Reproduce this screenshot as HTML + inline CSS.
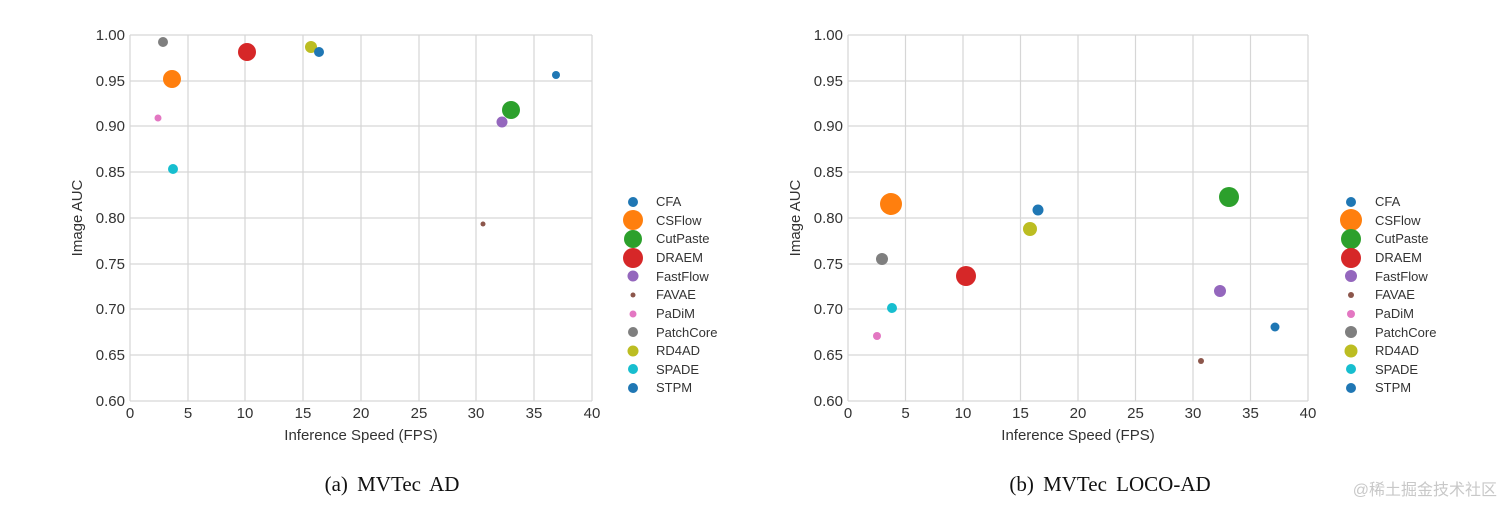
<!DOCTYPE html>
<html><head><meta charset="utf-8"><style>
body{margin:0;background:#fff;}
svg{display:block;}
</style></head><body>
<svg width="1503" height="505" xmlns="http://www.w3.org/2000/svg" font-family="Liberation Sans, sans-serif">
<rect width="1503" height="505" fill="#fff"/>
<!-- LEFT PLOT -->
<g stroke="#d6d6d6" stroke-width="1.2">
<line x1="130" y1="35" x2="130" y2="401"/><line x1="188" y1="35" x2="188" y2="401"/><line x1="245" y1="35" x2="245" y2="401"/><line x1="303" y1="35" x2="303" y2="401"/><line x1="361" y1="35" x2="361" y2="401"/><line x1="419" y1="35" x2="419" y2="401"/><line x1="476" y1="35" x2="476" y2="401"/><line x1="534" y1="35" x2="534" y2="401"/><line x1="592" y1="35" x2="592" y2="401"/>
<line x1="130" y1="35" x2="592" y2="35"/><line x1="130" y1="81" x2="592" y2="81"/><line x1="130" y1="126" x2="592" y2="126"/><line x1="130" y1="172" x2="592" y2="172"/><line x1="130" y1="218" x2="592" y2="218"/><line x1="130" y1="264" x2="592" y2="264"/><line x1="130" y1="309" x2="592" y2="309"/><line x1="130" y1="355" x2="592" y2="355"/><line x1="130" y1="401" x2="592" y2="401"/>
</g>
<g font-size="15" fill="#333" text-anchor="end">
<text x="125" y="40">1.00</text><text x="125" y="86">0.95</text><text x="125" y="131">0.90</text><text x="125" y="177">0.85</text><text x="125" y="223">0.80</text><text x="125" y="269">0.75</text><text x="125" y="314">0.70</text><text x="125" y="360">0.65</text><text x="125" y="406">0.60</text>
</g>
<g font-size="15" fill="#333" text-anchor="middle">
<text x="130" y="418">0</text><text x="188" y="418">5</text><text x="245" y="418">10</text><text x="303" y="418">15</text><text x="361" y="418">20</text><text x="419" y="418">25</text><text x="476" y="418">30</text><text x="534" y="418">35</text><text x="592" y="418">40</text>
<text x="361" y="440">Inference Speed (FPS)</text>
<text transform="translate(82,218) rotate(-90)">Image AUC</text>
</g>
<circle cx="163" cy="42" r="5" fill="#7f7f7f"/>
<circle cx="172" cy="79" r="9" fill="#ff7f0e"/>
<circle cx="158" cy="118" r="3.5" fill="#e377c2"/>
<circle cx="173" cy="169" r="5" fill="#17becf"/>
<circle cx="247" cy="52" r="9" fill="#d62728"/>
<circle cx="311" cy="47" r="6" fill="#bcbd22"/>
<circle cx="319" cy="52" r="5" fill="#1f77b4"/>
<circle cx="556" cy="75" r="4" fill="#1f77b4"/>
<circle cx="511" cy="110" r="9" fill="#2ca02c"/>
<circle cx="502" cy="122" r="5.5" fill="#9467bd"/>
<circle cx="483" cy="224" r="2.5" fill="#8c564b"/>
<!-- legend left -->
<g font-size="13" fill="#333">
<circle cx="633" cy="202" r="5" fill="#1f77b4"/><text x="656" y="206">CFA</text>
<circle cx="633" cy="220" r="10" fill="#ff7f0e"/><text x="656" y="225">CSFlow</text>
<circle cx="633" cy="239" r="9" fill="#2ca02c"/><text x="656" y="243">CutPaste</text>
<circle cx="633" cy="258" r="10" fill="#d62728"/><text x="656" y="262">DRAEM</text>
<circle cx="633" cy="276" r="5.5" fill="#9467bd"/><text x="656" y="281">FastFlow</text>
<circle cx="633" cy="295" r="2.5" fill="#8c564b"/><text x="656" y="299">FAVAE</text>
<circle cx="633" cy="314" r="3.5" fill="#e377c2"/><text x="656" y="318">PaDiM</text>
<circle cx="633" cy="332" r="5" fill="#7f7f7f"/><text x="656" y="337">PatchCore</text>
<circle cx="633" cy="351" r="5.5" fill="#bcbd22"/><text x="656" y="355">RD4AD</text>
<circle cx="633" cy="369" r="5" fill="#17becf"/><text x="656" y="374">SPADE</text>
<circle cx="633" cy="388" r="5" fill="#1f77b4"/><text x="656" y="392">STPM</text>
</g>
<text x="392" y="491" font-family="Liberation Serif, serif" font-size="21" word-spacing="4" text-anchor="middle" fill="#111">(a) MVTec AD</text>

<!-- RIGHT PLOT -->
<g stroke="#d6d6d6" stroke-width="1.2">
<line x1="848" y1="35" x2="848" y2="401"/><line x1="905.5" y1="35" x2="905.5" y2="401"/><line x1="963" y1="35" x2="963" y2="401"/><line x1="1020.5" y1="35" x2="1020.5" y2="401"/><line x1="1078" y1="35" x2="1078" y2="401"/><line x1="1135.5" y1="35" x2="1135.5" y2="401"/><line x1="1193" y1="35" x2="1193" y2="401"/><line x1="1250.5" y1="35" x2="1250.5" y2="401"/><line x1="1308" y1="35" x2="1308" y2="401"/>
<line x1="848" y1="35" x2="1308" y2="35"/><line x1="848" y1="81" x2="1308" y2="81"/><line x1="848" y1="126" x2="1308" y2="126"/><line x1="848" y1="172" x2="1308" y2="172"/><line x1="848" y1="218" x2="1308" y2="218"/><line x1="848" y1="264" x2="1308" y2="264"/><line x1="848" y1="309" x2="1308" y2="309"/><line x1="848" y1="355" x2="1308" y2="355"/><line x1="848" y1="401" x2="1308" y2="401"/>
</g>
<g font-size="15" fill="#333" text-anchor="end">
<text x="843" y="40">1.00</text><text x="843" y="86">0.95</text><text x="843" y="131">0.90</text><text x="843" y="177">0.85</text><text x="843" y="223">0.80</text><text x="843" y="269">0.75</text><text x="843" y="314">0.70</text><text x="843" y="360">0.65</text><text x="843" y="406">0.60</text>
</g>
<g font-size="15" fill="#333" text-anchor="middle">
<text x="848" y="418">0</text><text x="905.5" y="418">5</text><text x="963" y="418">10</text><text x="1020.5" y="418">15</text><text x="1078" y="418">20</text><text x="1135.5" y="418">25</text><text x="1193" y="418">30</text><text x="1250.5" y="418">35</text><text x="1308" y="418">40</text>
<text x="1078" y="440">Inference Speed (FPS)</text>
<text transform="translate(800,218) rotate(-90)">Image AUC</text>
</g>
<circle cx="891" cy="204" r="11" fill="#ff7f0e"/>
<circle cx="1038" cy="210" r="5.5" fill="#1f77b4"/>
<circle cx="1229" cy="197" r="10" fill="#2ca02c"/>
<circle cx="1030" cy="229" r="7" fill="#bcbd22"/>
<circle cx="882" cy="259" r="6" fill="#7f7f7f"/>
<circle cx="966" cy="276" r="10" fill="#d62728"/>
<circle cx="1220" cy="291" r="6" fill="#9467bd"/>
<circle cx="892" cy="308" r="5" fill="#17becf"/>
<circle cx="1275" cy="327" r="4.5" fill="#1f77b4"/>
<circle cx="877" cy="336" r="4" fill="#e377c2"/>
<circle cx="1201" cy="361" r="3" fill="#8c564b"/>
<g font-size="13" fill="#333">
<circle cx="1351" cy="202" r="5" fill="#1f77b4"/><text x="1375" y="206">CFA</text>
<circle cx="1351" cy="220" r="11" fill="#ff7f0e"/><text x="1375" y="225">CSFlow</text>
<circle cx="1351" cy="239" r="10" fill="#2ca02c"/><text x="1375" y="243">CutPaste</text>
<circle cx="1351" cy="258" r="10" fill="#d62728"/><text x="1375" y="262">DRAEM</text>
<circle cx="1351" cy="276" r="6" fill="#9467bd"/><text x="1375" y="281">FastFlow</text>
<circle cx="1351" cy="295" r="3" fill="#8c564b"/><text x="1375" y="299">FAVAE</text>
<circle cx="1351" cy="314" r="4" fill="#e377c2"/><text x="1375" y="318">PaDiM</text>
<circle cx="1351" cy="332" r="6" fill="#7f7f7f"/><text x="1375" y="337">PatchCore</text>
<circle cx="1351" cy="351" r="6.5" fill="#bcbd22"/><text x="1375" y="355">RD4AD</text>
<circle cx="1351" cy="369" r="5" fill="#17becf"/><text x="1375" y="374">SPADE</text>
<circle cx="1351" cy="388" r="5" fill="#1f77b4"/><text x="1375" y="392">STPM</text>
</g>
<text x="1110" y="491" font-family="Liberation Serif, serif" font-size="21" word-spacing="4" text-anchor="middle" fill="#111">(b) MVTec LOCO-AD</text>
<text x="1497" y="495" font-family="Liberation Sans, Noto Sans CJK SC, sans-serif" font-size="16" text-anchor="end" fill="#c8c8c8">@稀土掘金技术社区</text>
</svg>
</body></html>
